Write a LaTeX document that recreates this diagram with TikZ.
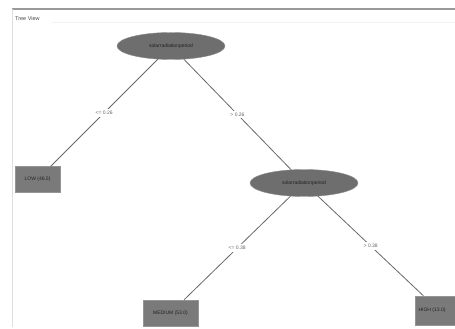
\documentclass[tikz,border=0pt]{standalone}
\usepackage{fontspec}
\setmainfont{Liberation Sans}
\usetikzlibrary{shapes.geometric}
\definecolor{nodefill}{HTML}{6E6E6E}
\definecolor{leaffill}{HTML}{7A7A7A}
\definecolor{edgecol}{HTML}{686868}
\definecolor{txtcol}{HTML}{222222}
\tikzset{
  tinytext/.style={font=\fontsize{5}{5.5}\selectfont, text=txtcol},
  splitnode/.style={ellipse, fill=nodefill, draw=nodefill!80!white, minimum width=108pt, minimum height=27pt, inner sep=0pt, tinytext},
  leafnode/.style={rectangle, fill=leaffill, draw=leaffill!80!white, minimum height=26pt, inner sep=0pt, tinytext},
  edgeline/.style={draw=edgecol, line width=0.8pt},
  edgelabel/.style={fill=white, inner sep=2pt, tinytext, text=txtcol!70!white}
}
\begin{document}
\begin{tikzpicture}[x=1pt,y=-1pt]
\useasboundingbox (0,0) rectangle (455,329);
\fill[white] (0,0) rectangle (455,329);
\clip (0,0) rectangle (455,329);
% frame
\draw[line width=1.4pt, color=gray!80] (12,9) -- (455,9);
\draw[line width=0.8pt, color=gray!25] (12,9) -- (12,327);
\draw[line width=0.5pt, color=gray!10] (52,22) -- (455,22);
\node[anchor=west, inner sep=0pt, font=\fontsize{5.5}{6}\selectfont, text=gray!60!black] (title) at (15,19) {Tree View};
% nodes
\node[splitnode] (root) at (171,46) {solarradiationperiod};
\node[splitnode] (n2) at (304,183) {solarradiationperiod};
\node[leafnode, minimum width=45pt] (low) at (37.5,179.5) {LOW (46.0)};
\node[leafnode, minimum width=55pt] (med) at (170.5,313) {MEDIUM (53.0)};
\node[leafnode, minimum width=48pt, minimum height=29pt] (high) at (439,310.5) {\hspace*{-14pt}HIGH (13.0)};
% edges
\draw[edgeline] (root) -- node[edgelabel] (l1) {<= 0.26} (low);
\draw[edgeline] (root) -- node[edgelabel] (l2) {> 0.26} (n2);
\draw[edgeline] (n2) -- node[edgelabel] (l3) {<= 0.38} (med);
\draw[edgeline] (n2) -- node[edgelabel] (l4) {> 0.38} (high);
\end{tikzpicture}
\end{document}
